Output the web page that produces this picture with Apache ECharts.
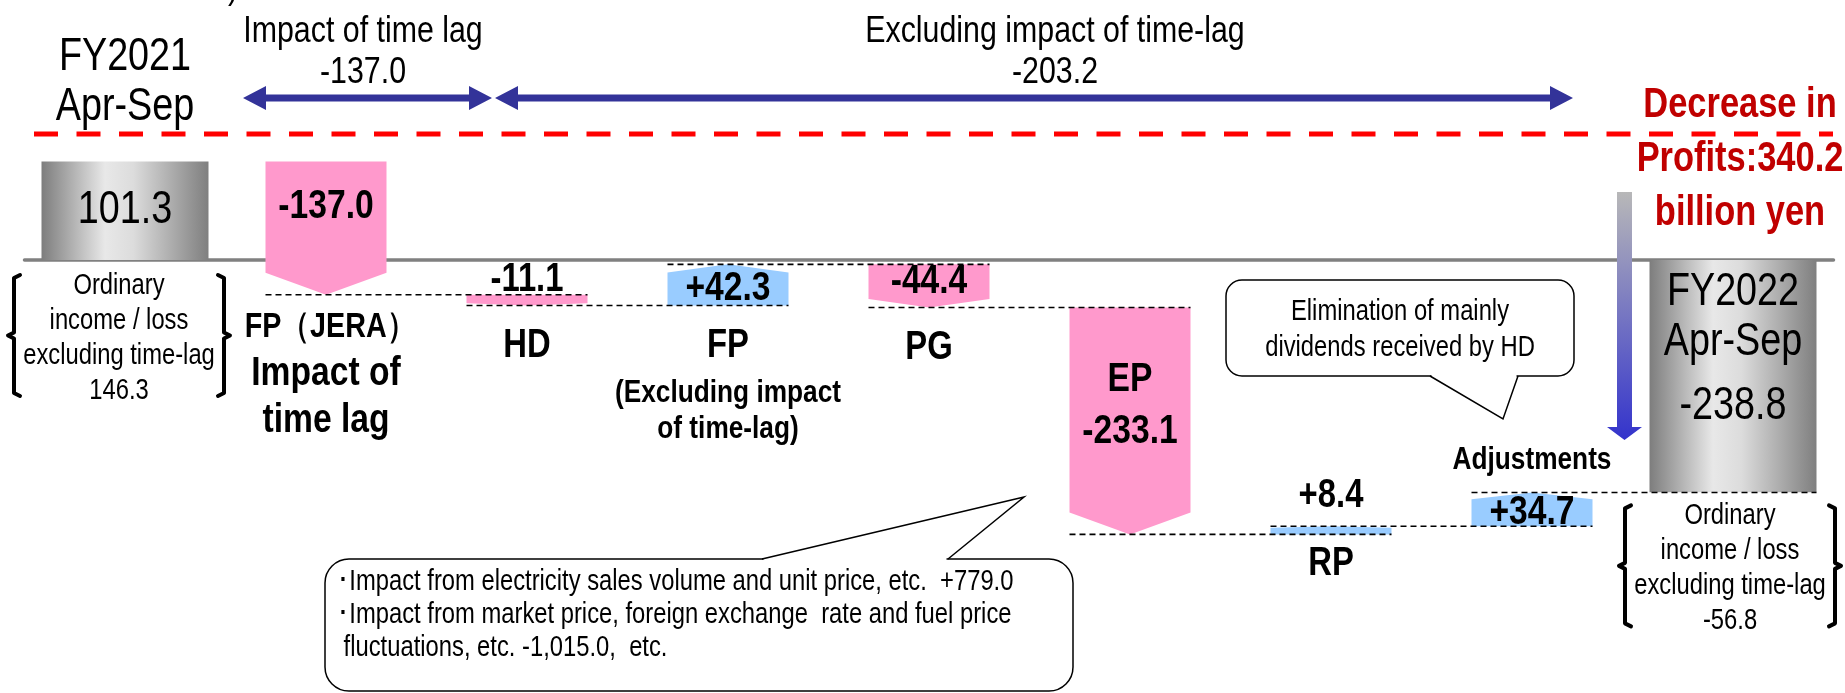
<!DOCTYPE html>
<html><head><meta charset="utf-8">
<script src="https://cdn.jsdelivr.net/npm/echarts@6/dist/echarts.min.js"></script>
<style>html,body{margin:0;padding:0;background:#fff;}#c{width:1845px;height:693px;}</style>
</head><body><div id="c"></div>
<script>
// ---------- data ----------
const categories = ['FY2021\nApr-Sep', 'FP（JERA）\nImpact of\ntime lag', 'HD', 'FP', 'PG', 'EP', 'RP', 'Adjustments', 'FY2022\nApr-Sep'];
const categoryNotes = ['', '', '', '(Excluding impact\nof time-lag)', '', '', '', '', ''];
const values = [101.3, -137.0, -11.1, 42.3, -44.4, -233.1, 8.4, 34.7, -238.8];
const isTotal = [true, false, false, false, false, false, false, false, true];
const excludingTimeLag = [146.3, -56.8];
const spanTitles = ['Impact of time lag', 'Excluding impact of time-lag'];
const spanValues = [-137.0, -203.2];
const profitDecrease = 340.2;
const noteAdjustments = ['Elimination of mainly', 'dividends received by HD'];
const noteEP = ['･Impact from electricity sales volume and unit price, etc.  +779.0',
                '･Impact from market price, foreign exchange  rate and fuel price',
                ' fluctuations, etc. -1,015.0,  etc.'];

// ---------- build waterfall rows ----------
let run = 0;
const rows = [];
values.forEach((v, i) => {
  if (isTotal[i]) { rows.push([i, 0, v, run]); run = v; }
  else { rows.push([i, run, run + v, run]); run = run + v; }
});

// ---------- styles ----------
const FONT = '"Liberation Sans", Arial, Helvetica, sans-serif';
const SX = 0.82;
const PINK = '#ff99cc', BLUE = '#99ccff';
const DW = 121, TW = 167;

function T(x, y, text, size, o) {
  o = o || {};
  const al = o.align || 'center';
  return {
    type: 'text', x: x, y: y, scaleX: SX, silent: true, z2: 20,
    style: {
      text: text, font: (o.bold ? 'bold ' : '') + size + 'px ' + FONT, fill: o.color || '#000',
      textAlign: al, textVerticalAlign: 'middle', align: al, verticalAlign: 'middle',
      lineHeight: o.lh || Math.round(size * 1.2)
    }
  };
}
function grayGrad() {
  return new echarts.graphic.LinearGradient(0, 0, 1, 0, [
    { offset: 0, color: '#7d7d7d' }, { offset: 0.38, color: '#e8e8e8' },
    { offset: 0.55, color: '#dcdcdc' }, { offset: 1, color: '#7f7f7f' }]);
}
function fmtDelta(v) { return (v > 0 ? '+' : '') + v.toFixed(1); }

function bracket(cx, ty, val) {
  const h = 123, L = cx - 105, R = cx + 105, m = ty + h / 2;
  const ls = { stroke: '#000', lineWidth: 4, fill: null, lineJoin: 'round', lineCap: 'round' };
  return [
    { type: 'polyline', shape: { points: [[L + 6, ty + 1], [L, ty + 4], [L, m - 3], [L - 6, m], [L, m + 3], [L, ty + h - 4], [L + 6, ty + h - 1]] }, style: ls, z2: 10 },
    { type: 'polyline', shape: { points: [[R - 6, ty + 1], [R, ty + 4], [R, m - 3], [R + 6, m], [R, m + 3], [R, ty + h - 4], [R - 6, ty + h - 1]] }, style: ls, z2: 10 },
    T(cx, ty + 64.5, 'Ordinary\nincome / loss\nexcluding time-lag\n' + val.toFixed(1), 29, { lh: 35 })
  ];
}

function renderItem(params, api) {
  const i = params.dataIndex;
  const s = api.value(1), e = api.value(2), prev = api.value(3);
  const cx = api.coord([i, 0])[0];
  const yS = api.coord([i, s])[1], yE = api.coord([i, e])[1];
  const top = Math.min(yS, yE), bot = Math.max(yS, yE);
  const w = isTotal[i] ? TW : DW, x0 = cx - w / 2, x1 = cx + w / 2;
  const ch = [];
  let rTop = top, rBot = bot;
  if (isTotal[i]) {
    ch.push({ type: 'rect', shape: { x: x0, y: top, width: w, height: bot - top }, style: { fill: grayGrad() }, z2: 1 });
  } else {
    const tip = Math.min(22, 0.2 * (bot - top));
    let pts;
    if (e < s) { pts = [[x0, top], [x1, top], [x1, bot - tip], [cx, bot], [x0, bot - tip]]; rBot = bot - tip; }
    else { pts = [[x0, bot], [x0, top + tip], [cx, top], [x1, top + tip], [x1, bot]]; rTop = top + tip; }
    ch.push({ type: 'polygon', shape: { points: pts }, style: { fill: e < s ? PINK : BLUE }, z2: 1 });
  }
  if (i >= 2) {
    const pcx = api.coord([i - 1, 0])[0], pw = isTotal[i - 1] ? TW : DW;
    const y = api.coord([i, prev])[1];
    ch.push({ type: 'line', shape: { x1: pcx - pw / 2, y1: y, x2: x1, y2: y }, style: { stroke: '#000', lineWidth: 1.6, lineDash: [6, 4] }, z2: 5 });
  }
  const v = values[i], mid = (rTop + rBot) / 2;
  const lines = categories[i].split('\n');
  const B = { bold: true };
  if (i === 0) {
    ch.push(T(cx, 82, categories[i], 46, { lh: 50 }));
    ch.push(T(cx, mid, v.toFixed(1), 46));
    ch.push.apply(ch, bracket(cx - 6, bot + 14, excludingTimeLag[0]));
  } else if (i === values.length - 1) {
    ch.push(T(cx, top + 32, lines[0], 46));
    ch.push(T(cx, top + 82, lines[1], 46));
    ch.push(T(cx, top + 146, v.toFixed(1), 46));
    ch.push.apply(ch, bracket(cx - 3, bot + 12, excludingTimeLag[1]));
  } else if (i === 1) {
    ch.push(T(cx, mid - 10, fmtDelta(v), 41, B));
    ch.push(T(cx + 4, bot + 33, lines[0], 35, B));
    ch.push(T(cx, bot + 102, lines.slice(1).join('\n'), 41, { bold: true, lh: 47 }));
  } else if (categories[i] === 'EP') {
    ch.push(T(cx, mid - 4, categories[i] + '\n' + fmtDelta(v), 41, { bold: true, lh: 52 }));
  } else if (categories[i] === 'Adjustments') {
    ch.push(T(cx, mid, fmtDelta(v), 41, B));
    ch.push(T(cx, top - 32, categories[i], 32, B));
  } else if (bot - top < 20) {
    // thin bars: value above the bar
    ch.push(T(cx, top - (e > s ? 30 : 15), fmtDelta(v), 40, B));
    ch.push(T(cx, bot + (e > s ? 30 : 40), categories[i], 40, B));
  } else {
    ch.push(T(cx, mid, fmtDelta(v), 41, B));
    ch.push(T(cx, bot + 40, categories[i], 40, B));
  }
  if (categoryNotes[i]) ch.push(T(cx, bot + 106, categoryNotes[i], 32, { bold: true, lh: 36 }));
  return { type: 'group', children: ch };
}

// ---------- decorations ----------
function dblArrow(xl, xr, y) {
  const hl = 23, hh = 12, sh = 3.5;
  return { type: 'polygon', z: 50, shape: { points: [[xl, y], [xl + hl, y - hh], [xl + hl, y - sh], [xr - hl, y - sh], [xr - hl, y - hh], [xr, y], [xr - hl, y + hh], [xr - hl, y + sh], [xl + hl, y + sh], [xl + hl, y + hh]] }, style: { fill: '#333399' } };
}
const G = [];
function addT(t) { t.z = 60; G.push(t); }
addT(T(233, -12, ')', 37));
G.push(dblArrow(243, 492, 98), dblArrow(495, 1573, 98));
addT(T(363, 52, spanTitles[0] + '\n' + spanValues[0].toFixed(1), 37, { lh: 41 }));
addT(T(1055, 52, spanTitles[1] + '\n' + spanValues[1].toFixed(1), 37, { lh: 41 }));
G.push({ type: 'line', z: 50, shape: { x1: 34, y1: 134, x2: 1833, y2: 134 }, style: { stroke: '#ff0000', lineWidth: 5, lineDash: [24, 18.5] } });
addT(T(1740, 159, 'Decrease in\nProfits:' + profitDecrease.toFixed(1) + '\nbillion yen', 42, { bold: true, color: '#c00000', lh: 54 }));
G.push({ type: 'polygon', z: 50, shape: { points: [[1617, 192], [1632, 192], [1632, 427], [1642, 427], [1624.5, 440], [1607, 427], [1617, 427]] },
  style: { fill: new echarts.graphic.LinearGradient(0, 0, 0, 1, [{ offset: 0, color: '#b8b8b8' }, { offset: 1, color: '#3333cc' }]) } });
// callout 1
G.push({ type: 'rect', z: 50, shape: { x: 1226, y: 280, width: 348, height: 96, r: 16 }, style: { fill: '#fff', stroke: '#000', lineWidth: 1.5 } });
G.push({ type: 'line', z: 51, shape: { x1: 1431.5, y1: 376, x2: 1516.5, y2: 376 }, style: { stroke: '#fff', lineWidth: 3 } });
G.push({ type: 'polyline', z: 52, shape: { points: [[1430, 376], [1503, 419], [1518, 376]] }, style: { stroke: '#000', lineWidth: 1.5, fill: null } });
addT(T(1400, 330, noteAdjustments.join('\n'), 29, { lh: 36 }));
// callout 2
G.push({ type: 'rect', z: 50, shape: { x: 325, y: 559, width: 748, height: 132, r: 24 }, style: { fill: '#fff', stroke: '#000', lineWidth: 1.5 } });
G.push({ type: 'line', z: 51, shape: { x1: 763.5, y1: 559, x2: 946.5, y2: 559 }, style: { stroke: '#fff', lineWidth: 3 } });
G.push({ type: 'polyline', z: 52, shape: { points: [[762, 559], [1024, 497], [948, 559]] }, style: { stroke: '#000', lineWidth: 1.5, fill: null } });
addT(T(337, 615, noteEP.join('\n'), 29, { align: 'left', lh: 33 }));

// ---------- chart ----------
const chart = echarts.init(document.getElementById('c'), null, { renderer: 'canvas' });
chart.setOption({
  animation: false,
  backgroundColor: '#fff',
  grid: { left: 24.5, right: 11.5, top: 143.2, bottom: 141.1 },
  xAxis: { type: 'category', data: categories, axisLine: { show: true, onZero: true, lineStyle: { color: '#808080', width: 3.5 } }, axisTick: { show: false }, axisLabel: { show: false }, splitLine: { show: false } },
  yAxis: { type: 'value', min: -300, max: 120, show: false },
  series: [{ type: 'custom', renderItem: renderItem, data: rows, encode: { x: 0, y: [1, 2] }, clip: false, z: 3 }],
  graphic: { elements: G }
});
</script></body></html>
